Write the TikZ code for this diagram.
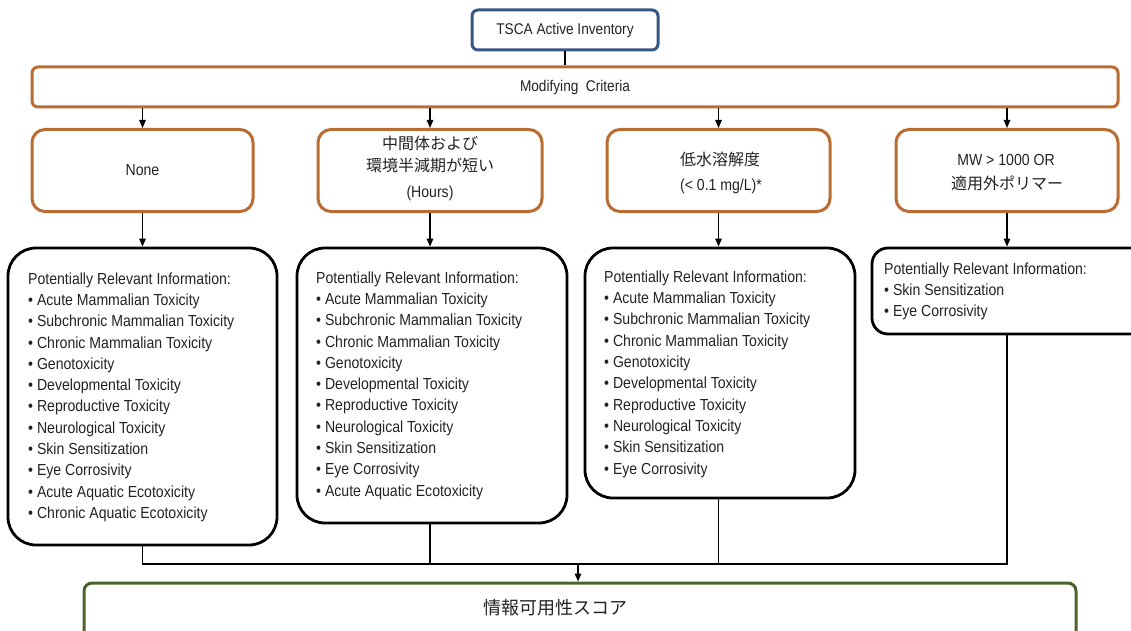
\documentclass[tikz,border=0pt]{standalone}
\usepackage{fontspec}
\setmainfont{Liberation Sans}[FakeStretch=0.88]
\newfontfamily\jp{Noto Sans CJK JP}
\usetikzlibrary{arrows.meta}
\definecolor{cOrange}{RGB}{186,108,50}
\definecolor{cBlue}{RGB}{55,85,135}
\definecolor{cGreen}{RGB}{75,100,45}
\definecolor{cText}{RGB}{35,35,35}
\tikzset{
  critbox/.style={draw=cOrange, line width=3pt, rounded corners=13pt, fill=white, align=center, inner sep=0pt, text=cText, font=\fontsize{16}{22}\selectfont},
  infobox/.style={draw=black, line width=2.8pt, rounded corners=28pt, fill=white, inner sep=0pt},
  listtext/.style={anchor=north west, inner sep=0pt, align=left, text=cText, font=\fontsize{16}{21.3}\selectfont},
  lattext/.style={inner sep=0pt, text=cText, font=\fontsize{16}{18}\selectfont},
  jptext/.style={inner sep=0pt, text=cText, font=\jp\fontsize{16}{18}\selectfont},
  conn/.style={line width=1.4pt, draw=black},
  arr/.style={conn, -{Triangle[length=8pt,width=6.5pt]}},
}
\begin{document}
\begin{tikzpicture}[x=1pt,y=-1pt]
\useasboundingbox (0,0) rectangle (1131,631);
\clip (0,0) rectangle (1131,631);
\fill[white] (0,0) rectangle (1131,631);

% top
\node[draw=cBlue, line width=3pt, rounded corners=6pt, minimum width=186pt, minimum height=40pt, inner sep=0pt, fill=white, text=cText, font=\fontsize{15.5}{17}\selectfont] (top) at (565,30) {TSCA Active Inventory};
\node[critbox, minimum width=1086pt, minimum height=40pt, rounded corners=6pt, font=\fontsize{15.5}{17}\selectfont] (mod) at (575,87) {Modifying\ \ Criteria};

% criteria row
\node[critbox, minimum width=221pt, minimum height=82pt] (none) at (142.5,170.5) {None};
\node[critbox, minimum width=224pt, minimum height=82pt] (mid) at (430,170.5) {};
\node[critbox, minimum width=223pt, minimum height=82pt] (low) at (718.5,170.5) {};
\node[critbox, minimum width=222pt, minimum height=82pt] (mw) at (1007,170.5) {};

\node[jptext] (midA) at (430,143) {中間体および};
\node[jptext] (midB) at (430,165) {環境半減期が短い};
\node[lattext] (midC) at (430,193) {(Hours)};
\node[jptext] (lowA) at (720,159) {低水溶解度};
\node[lattext] (lowB) at (721,186) {(< 0.1 mg/L)*};
\node[lattext] (mwA) at (1006,160) {MW > 1000 OR};
\node[jptext] (mwB) at (1007,183) {適用外ポリマー};

% info row
\node[infobox, minimum width=269pt, minimum height=297pt] (b1) at (142.5,396.5) {};
\node[infobox, minimum width=270pt, minimum height=275pt] (b2) at (432,385.5) {};
\node[infobox, minimum width=270pt, minimum height=250pt] (b3) at (720,373) {};
\node[infobox, minimum width=278pt, minimum height=86pt, rounded corners=16pt] (b4) at (1011,291) {};

\node[listtext] (l1) at (28,272.4) {Potentially Relevant Information:\\
• Acute Mammalian Toxicity\\
• Subchronic Mammalian Toxicity\\
• Chronic Mammalian Toxicity\\
• Genotoxicity\\
• Developmental Toxicity\\
• Reproductive Toxicity\\
• Neurological Toxicity\\
• Skin Sensitization\\
• Eye Corrosivity\\
• Acute Aquatic Ecotoxicity\\
• Chronic Aquatic Ecotoxicity};

\node[listtext] (l2) at (316,271.4) {Potentially Relevant Information:\\
• Acute Mammalian Toxicity\\
• Subchronic Mammalian Toxicity\\
• Chronic Mammalian Toxicity\\
• Genotoxicity\\
• Developmental Toxicity\\
• Reproductive Toxicity\\
• Neurological Toxicity\\
• Skin Sensitization\\
• Eye Corrosivity\\
• Acute Aquatic Ecotoxicity};

\node[listtext] (l3) at (604,270.6) {Potentially Relevant Information:\\
• Acute Mammalian Toxicity\\
• Subchronic Mammalian Toxicity\\
• Chronic Mammalian Toxicity\\
• Genotoxicity\\
• Developmental Toxicity\\
• Reproductive Toxicity\\
• Neurological Toxicity\\
• Skin Sensitization\\
• Eye Corrosivity};

\node[listtext] (l4) at (884,262.6) {Potentially Relevant Information:\\
• Skin Sensitization\\
• Eye Corrosivity};

% score
\node[draw=cGreen, line width=3pt, rounded corners=8pt, fill=white, minimum width=992pt, minimum height=62pt, inner sep=0pt] (score) at (580,614) {};
\node[jptext, font=\jp\fontsize{18}{20}\selectfont] (scoretxt) at (555,608) {情報可用性スコア};

% connectors
\draw[conn] (top.south) -- (top.south |- mod.north);
\draw[arr] (mod.south -| none.north) -- (none.north);
\draw[arr] (mod.south -| mid.north) -- (mid.north);
\draw[arr] (mod.south -| low.north) -- (low.north);
\draw[arr] (mod.south -| mw.north) -- (mw.north);

\draw[arr] (none.south) -- (none.south |- b1.north);
\draw[arr] (mid.south) -- (mid.south |- b2.north);
\draw[arr] (low.south) -- (low.south |- b3.north);
\draw[arr] (mw.south) -- (mw.south |- b4.north);

\coordinate (join) at (578,564);
\draw[conn] (none.south |- b1.south) -- (none.south |- join) -- (mw.south |- join) -- (mw.south |- b4.south);
\draw[conn] (mid.south |- b2.south) -- (mid.south |- join);
\draw[conn] (low.south |- b3.south) -- (low.south |- join);
\draw[arr] (join) -- (join |- score.north);
\end{tikzpicture}
\end{document}
